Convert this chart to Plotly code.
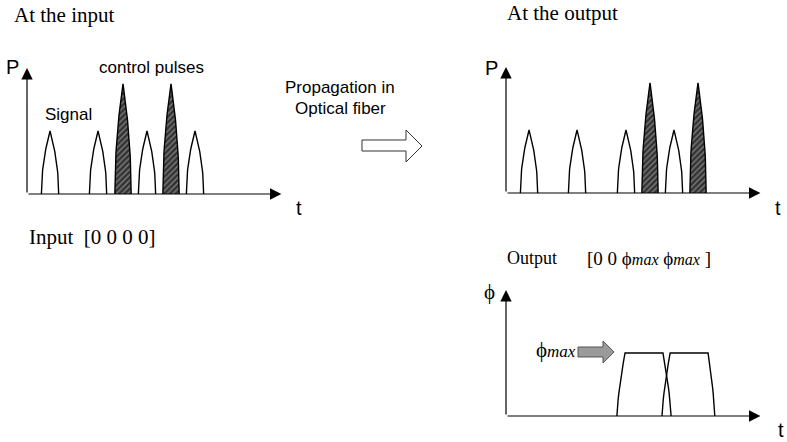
import numpy as np
import plotly.graph_objects as go

W, H = 787, 442

# ---------------- data ----------------
signal_in_t = [0.48, 1.48, 2.5, 3.5]      # signal pulse centres (time slots) at the input
control_in_t = [2.0, 3.0]                  # control pulse centres at the input
signal_out_t = [0.48, 1.48, 2.5, 3.5]     # signal pulse centres at the output
control_out_t = [3.0, 4.0]                 # control pulse centres at the output
signal_peak = 1.0
control_peak = 1.75
signal_halfwidth = 0.18
control_halfwidth = 0.17
phase_start = [2.31, 3.25]
phase_top_start = [2.48, 3.42]
phase_top_end = [3.27, 4.21]
phase_end = [3.44, 4.35]
phase_max = 1.0

T_MAX = 5.3
Y_MAX = 2.0
PX_T = 48.0   # pixels per time unit
PX_Y = 63.0   # pixels per amplitude unit

SERIF = "Liberation Serif"
SANS = "Liberation Sans"
PHI = "\u03d5"


def px(x, y):
    return x / W, 1 - y / H


def pulse(c, w, a):
    u = np.linspace(-1, 1, 61)
    return c + u * w, a * np.sqrt(1 - np.abs(u))


def edge(a, b, n=12, p=1.4):
    u = np.linspace(0, 1, n)
    return a + (b - a) * u ** p, u


fig = go.Figure()

panels = [("x", "y", 27, 194), ("x2", "y2", 506, 193), ("x3", "y3", 506, 416)]

hatch = dict(shape="/", bgcolor="#333333", fgcolor="#c8c8c8", size=4, solidity=0.35)

# pulses: input
for c in signal_in_t:
    xs, ys = pulse(c, signal_halfwidth, signal_peak)
    fig.add_trace(go.Scatter(x=xs, y=ys, xaxis="x", yaxis="y", mode="lines",
                             line=dict(color="black", width=1.4), hoverinfo="skip"))
for c in control_in_t:
    xs, ys = pulse(c, control_halfwidth, control_peak)
    fig.add_trace(go.Scatter(x=xs, y=ys, xaxis="x", yaxis="y", mode="lines", fill="toself",
                             fillcolor="#3a3a3a", fillpattern=hatch,
                             line=dict(color="black", width=1.4), hoverinfo="skip"))
# pulses: output
for c in signal_out_t:
    xs, ys = pulse(c, signal_halfwidth, signal_peak)
    fig.add_trace(go.Scatter(x=xs, y=ys, xaxis="x2", yaxis="y2", mode="lines",
                             line=dict(color="black", width=1.4), hoverinfo="skip"))
for c in control_out_t:
    xs, ys = pulse(c, control_halfwidth, control_peak)
    fig.add_trace(go.Scatter(x=xs, y=ys, xaxis="x2", yaxis="y2", mode="lines", fill="toself",
                             fillcolor="#3a3a3a", fillpattern=hatch,
                             line=dict(color="black", width=1.4), hoverinfo="skip"))
# phase windows
for s0, s1, e1, e0 in zip(phase_start, phase_top_start, phase_top_end, phase_end):
    lx, ly = edge(s0, s1)
    rx, ry = edge(e0, e1)
    xs = list(lx) + list(rx[::-1])
    ys = list(ly * phase_max) + list(ry[::-1] * phase_max)
    fig.add_trace(go.Scatter(x=xs, y=ys, xaxis="x3", yaxis="y3", mode="lines",
                             line=dict(color="black", width=1.4), hoverinfo="skip"))

layout = dict(width=W, height=H, margin=dict(l=0, r=0, t=0, b=0),
              paper_bgcolor="white", plot_bgcolor="rgba(0,0,0,0)", showlegend=False)
annotations = []
for i, (xa, ya, ox, oy) in enumerate(panels):
    sfx = "" if i == 0 else str(i + 1)
    layout["xaxis" + sfx] = dict(domain=[ox / W, (ox + T_MAX * PX_T) / W], range=[0, T_MAX],
                                 visible=False, anchor=ya, fixedrange=True)
    layout["yaxis" + sfx] = dict(domain=[(H - oy) / H, (H - oy + Y_MAX * PX_Y) / H],
                                 range=[0, Y_MAX], visible=False, anchor=xa, fixedrange=True)
    for (x, y) in [(T_MAX, 0), (0, Y_MAX)]:
        annotations.append(dict(x=x, y=y, ax=0, ay=0, xref=xa, yref=ya, axref=xa, ayref=ya,
                                text="", showarrow=True, arrowhead=2, arrowsize=1.9,
                                arrowwidth=1.2, arrowcolor="black"))


def txt(text, x, y, size, family, xanchor="left", yanchor="middle", align="left"):
    xx, yy = px(x, y)
    annotations.append(dict(text=text, x=xx, y=yy, xref="paper", yref="paper", showarrow=False,
                            xanchor=xanchor, yanchor=yanchor, align=align,
                            font=dict(family=family, size=size, color="black")))


def mx(size):
    return "<i><span style='font-size:%dpx'>max</span></i>" % size


txt("At the input", 12, 15, 21, SERIF)
txt("At the output", 505, 13, 21, SERIF)
txt("P", 4, 67, 20, SANS)
txt("P", 483, 68, 20, SANS)
txt("Signal", 43, 115, 17, SANS)
txt("control pulses", 97, 67, 17, SANS)
txt("Propagation in", 340, 88, 17, SANS, xanchor="center")
txt("Optical fiber", 340, 108, 17, SANS, xanchor="center")
txt("t", 299, 208, 20, SANS, xanchor="center")
txt("t", 778, 208, 20, SANS, xanchor="center")
txt("t", 781, 430, 20, SANS, xanchor="center")
txt("Input  [0 0 0 0]", 27, 237, 21, SERIF)
txt("Output", 505, 258, 18, SERIF)
txt("[0 0 %s%s %s%s ]" % (PHI, mx(16), PHI, mx(16)), 585, 258, 19, SERIF)
txt(PHI, 489, 292, 21, SERIF, xanchor="center")
txt(PHI + mx(17), 534, 350, 21, SERIF)

# hollow propagation arrow
pts = [(362, 140), (406, 140), (406, 130), (422, 146), (406, 162), (406, 151), (362, 151)]
path = "M " + " L ".join("%.5f,%.5f" % px(x, y) for x, y in pts) + " Z"
shapes = [dict(type="path", path=path, xref="paper", yref="paper",
               line=dict(color="#333", width=1), fillcolor="white")]
# grey phi_max arrow
pts2 = [(578, 347), (603, 347), (603, 341), (614, 352), (603, 363), (603, 357), (578, 357)]
path2 = "M " + " L ".join("%.5f,%.5f" % px(x, y) for x, y in pts2) + " Z"
shapes.append(dict(type="path", path=path2, xref="paper", yref="paper",
                   line=dict(color="#555", width=1), fillcolor="#9a9a9a"))

layout["annotations"] = annotations
layout["shapes"] = shapes
fig.update_layout(**layout)
fig.write_html("out.html", config={"displayModeBar": False, "staticPlot": True},
               post_script=["document.body.style.margin='0px';"])
